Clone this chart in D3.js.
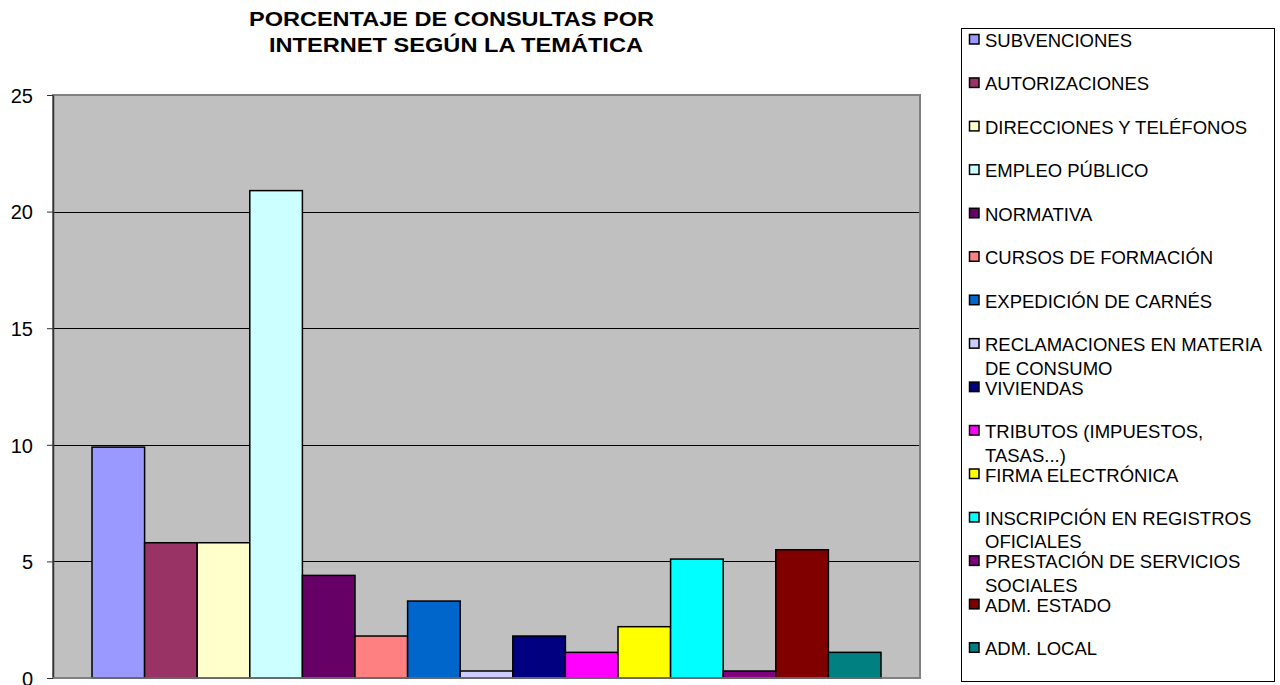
<!DOCTYPE html>
<html>
<head>
<meta charset="utf-8">
<script src="https://cdn.jsdelivr.net/npm/d3@7"></script>
<style>
  html, body { margin: 0; padding: 0; background: #fff; }
  svg { display: block; font-family: "Liberation Sans", Arial, sans-serif; }
</style>
</head>
<body>
<svg id="chart" width="1280" height="685"></svg>
<script>
const titleLines = ["PORCENTAJE DE CONSULTAS POR", "INTERNET SEGÚN LA TEMÁTICA"];
const categories = [
  "SUBVENCIONES", "AUTORIZACIONES", "DIRECCIONES Y TELÉFONOS", "EMPLEO PÚBLICO",
  "NORMATIVA", "CURSOS DE FORMACIÓN", "EXPEDICIÓN DE CARNÉS",
  "RECLAMACIONES EN MATERIA DE CONSUMO", "VIVIENDAS", "TRIBUTOS (IMPUESTOS, TASAS...)",
  "FIRMA ELECTRÓNICA", "INSCRIPCIÓN EN REGISTROS OFICIALES",
  "PRESTACIÓN DE SERVICIOS SOCIALES", "ADM. ESTADO", "ADM. LOCAL"
];
const legendLines = [
  ["SUBVENCIONES"], ["AUTORIZACIONES"], ["DIRECCIONES Y TELÉFONOS"], ["EMPLEO PÚBLICO"],
  ["NORMATIVA"], ["CURSOS DE FORMACIÓN"], ["EXPEDICIÓN DE CARNÉS"],
  ["RECLAMACIONES EN MATERIA", "DE CONSUMO"], ["VIVIENDAS"], ["TRIBUTOS (IMPUESTOS,", "TASAS...)"],
  ["FIRMA ELECTRÓNICA"], ["INSCRIPCIÓN EN REGISTROS", "OFICIALES"],
  ["PRESTACIÓN DE SERVICIOS", "SOCIALES"], ["ADM. ESTADO"], ["ADM. LOCAL"]
];
const values = [9.9, 5.8, 5.8, 20.9, 4.4, 1.8, 3.3, 0.3, 1.8, 1.1, 2.2, 5.1, 0.3, 5.5, 1.1];
const colors = ["#9999FF", "#993366", "#FFFFCC", "#CCFFFF", "#660066", "#FF8080", "#0066CC",
  "#CCCCFF", "#000080", "#FF00FF", "#FFFF00", "#00FFFF", "#800080", "#800000", "#008080"];
const yTicks = [0, 5, 10, 15, 20, 25];

const svg = d3.select("#chart");
const plot = { left: 53, right: 920, top: 95, bottom: 678 };
const gap = 39;

const x = d3.scaleBand().domain(categories)
  .range([plot.left + gap, plot.right - gap]).padding(0);
const y = d3.scaleLinear().domain([0, 25]).range([plot.bottom, plot.top]);

// plot background
svg.append("rect")
  .attr("x", plot.left).attr("y", plot.top)
  .attr("width", plot.right - plot.left).attr("height", plot.bottom - plot.top)
  .attr("fill", "#C0C0C0").attr("stroke", "#808080").attr("stroke-width", 2);

// gridlines
svg.append("g").selectAll("line").data(yTicks.filter(d => d > 0 && d < 25)).join("line")
  .attr("x1", plot.left).attr("x2", plot.right - 1)
  .attr("y1", d => Math.round(y(d)) + 0.5).attr("y2", d => Math.round(y(d)) + 0.5)
  .attr("stroke", "#000").attr("stroke-width", 1);

// bars
svg.append("g").selectAll("rect").data(values).join("rect")
  .attr("x", (d, i) => x(categories[i]))
  .attr("y", d => y(d))
  .attr("width", x.bandwidth())
  .attr("height", d => y(0) - y(d))
  .attr("fill", (d, i) => colors[i])
  .attr("stroke", "#000").attr("stroke-width", 1.5);

// y axis
const yAxis = d3.axisLeft(y).tickValues(yTicks).tickSize(6).tickSizeOuter(0).tickFormat(d3.format("d"));
const ag = svg.append("g").attr("transform", `translate(${plot.left},0)`).call(yAxis);
ag.select(".domain").attr("stroke", "#333").attr("stroke-width", 1.5);
ag.selectAll(".tick line").attr("stroke", "#333");
ag.selectAll(".tick text")
  .attr("x", -20).attr("dy", "0.36em")
  .attr("font-size", 20).attr("fill", "#000")
  .attr("font-family", "Liberation Sans, Arial, sans-serif");

// bottom axis line
svg.append("line")
  .attr("x1", plot.left).attr("x2", plot.right)
  .attr("y1", plot.bottom).attr("y2", plot.bottom)
  .attr("stroke", "#808080").attr("stroke-width", 1.5);

// title
const titleWidths = [405, 374];
const titleCx = [451.5, 456];
svg.append("g").selectAll("text").data(titleLines).join("text")
  .attr("x", (d, i) => titleCx[i] - titleWidths[i] / 2)
  .attr("y", (d, i) => 26 + i * 26)
  .attr("font-weight", "bold").attr("font-size", 20)
  .attr("textLength", (d, i) => titleWidths[i])
  .attr("lengthAdjust", "spacingAndGlyphs")
  .text(d => d);

// legend
const lg = svg.append("g");
lg.append("rect")
  .attr("x", 961.5).attr("y", 28.5).attr("width", 313).attr("height", 653)
  .attr("fill", "#fff").attr("stroke", "#000").attr("stroke-width", 1);
const slot = 43.45;
const items = lg.selectAll("g.item").data(categories).join("g")
  .attr("class", "item")
  .attr("transform", (d, i) => `translate(0,${40.5 + i * slot})`);
items.append("rect")
  .attr("x", 969.5).attr("y", -6).attr("width", 9.5).attr("height", 9.5)
  .attr("fill", (d, i) => colors[i]).attr("stroke", "#000").attr("stroke-width", 1.5);
items.append("text")
  .attr("font-size", 18.5).attr("fill", "#000")
  .selectAll("tspan").data((d, i) => legendLines[i]).join("tspan")
  .attr("x", 985).attr("y", (d, j) => 6.5 + j * 23.5)
  .text(d => d);
</script>
</body>
</html>
